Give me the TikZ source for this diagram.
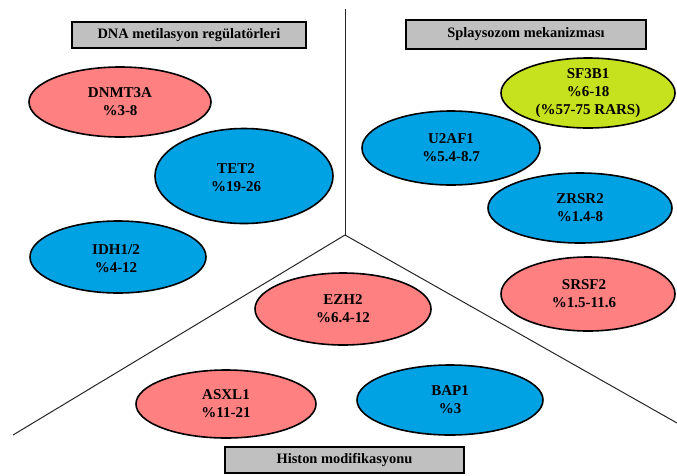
\documentclass[tikz,border=0pt]{standalone}
\usepackage{fontspec}
\setmainfont{Liberation Serif}
\usetikzlibrary{shapes.geometric}
\definecolor{pinkc}{RGB}{255,128,128}
\definecolor{bluec}{RGB}{0,162,228}
\definecolor{greenc}{RGB}{198,225,30}
\definecolor{greyc}{RGB}{192,192,192}
\begin{document}
\begin{tikzpicture}[x=1pt,y=-1pt,
  gene/.style={ellipse, draw=black, line width=1.6pt, inner sep=0pt, align=center,
    font=\bfseries\fontsize{15}{18}\selectfont},
  pinkg/.style={gene, fill=pinkc},
  blueg/.style={gene, fill=bluec},
  greeng/.style={gene, fill=greenc},
  lbl/.style={align=center, inner sep=0pt, font=\bfseries\fontsize{15}{18}\selectfont},
  titlebox/.style={draw=black, line width=2.2pt, fill=greyc, inner sep=0pt,
    font=\bfseries\fontsize{14.4}{16}\selectfont},
  divline/.style={line width=1pt, black!85}]
\useasboundingbox (0,0) rectangle (677,475);
% dividing lines
\coordinate (J) at (345,235);
\coordinate (T) at (345,9);
\coordinate (L) at (13,435);
\coordinate (R) at (677,423);
\draw[divline] (T) -- (J);
\draw[divline] (J) -- (L);
\draw[divline] (J) -- (R);
% title boxes
\node[titlebox, minimum width=234pt, minimum height=26pt] (dna) at (189,35) {DNA metilasyon regülatörleri};
\node[titlebox, minimum width=240pt, minimum height=29pt] (spl) at (526,34.5) {Splaysozom mekanizması};
\node[titlebox, minimum width=239pt, minimum height=26pt] (his) at (344.5,460) {Histon modifikasyonu};
% genes
\node[pinkg, minimum width=182pt, minimum height=70pt] (dnmt) at (120,102) {DNMT3A\\\%3-8};
\node[blueg, minimum width=178pt, minimum height=95pt] (tet) at (244,176) {};
\node[lbl] (tett) at (236,178) {TET2\\\%19-26};
\node[blueg, minimum width=176pt, minimum height=72pt] (idh) at (118,257) {};
\node[lbl] (idht) at (116,259) {IDH1/2\\\%4-12};
\node[greeng, minimum width=174pt, minimum height=70pt] (sf) at (588,93) {SF3B1\\\%6-18\\(\%57-75 RARS)};
\node[blueg, minimum width=178pt, minimum height=74pt] (u2) at (451,148) {U2AF1\\\%5.4-8.7};
\node[blueg, minimum width=184pt, minimum height=70pt] (zr) at (580,208) {ZRSR2\\\%1.4-8};
\node[pinkg, minimum width=174pt, minimum height=74pt] (sr) at (588,294) {};
\node[lbl] (srt) at (584,294) {SRSF2\\\%1.5-11.6};
\node[pinkg, minimum width=176pt, minimum height=72pt] (ezh) at (343,309) {EZH2\\\%6.4-12};
\node[pinkg, minimum width=180pt, minimum height=68pt] (asx) at (226,404) {ASXL1\\\%11-21};
\node[blueg, minimum width=186pt, minimum height=70pt] (bap) at (450,400) {BAP1\\\%3};
\end{tikzpicture}
\end{document}
